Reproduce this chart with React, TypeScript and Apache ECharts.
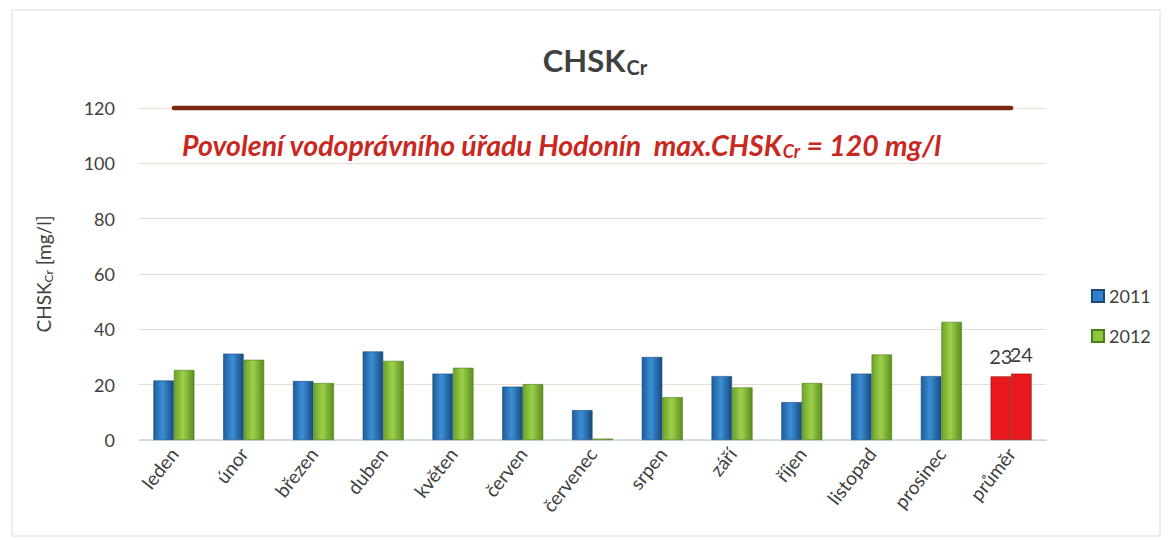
import React, { useEffect, useRef } from "react";
import * as echarts from "echarts";

const categories = ["leden", "únor", "březen", "duben", "květen", "červen", "červenec", "srpen", "září", "říjen", "listopad", "prosinec", "průměr"];
const values2011 = [21.5, 31.2, 21.3, 32, 24, 19.3, 10.8, 30, 23.1, 13.7, 24, 23.1, 23];
const values2012 = [25.3, 29, 20.6, 28.6, 26.1, 20.2, 0.5, 15.5, 19, 20.6, 30.9, 42.7, 24];
const limitValue = 120;
const yTicks = { min: 0, max: 120, interval: 20 };

const FONT = "Lato, 'Open Sans', sans-serif";

const blueGrad = () =>
  new echarts.graphic.LinearGradient(0, 0, 1, 0, [
    { offset: 0, color: "#1f5c99" },
    { offset: 0.45, color: "#3b8fd6" },
    { offset: 1, color: "#174a80" },
  ]);
const greenGrad = () =>
  new echarts.graphic.LinearGradient(0, 0, 1, 0, [
    { offset: 0, color: "#6aa22a" },
    { offset: 0.45, color: "#9fd04b" },
    { offset: 1, color: "#5a8d1e" },
  ]);

export default function App() {
  const ref = useRef<HTMLDivElement>(null);
  useEffect(() => {
    document.body.style.margin = "0";
    const chart = echarts.init(ref.current!, null, { renderer: "svg" });
    const lastIdx = categories.length - 1;
    const mkData = (vals: number[]) =>
      vals.map((v, i) =>
        i === lastIdx
          ? {
              value: v,
              itemStyle: { color: "#e8191c", borderColor: "#8a1010", borderWidth: 0.6 },
              label: {
                show: true,
                position: "top",
                distance: 10,
                fontSize: 20,
                color: "#404040",
                fontFamily: FONT,
              },
            }
          : v
      );
    chart.setOption({
      animation: false,
      backgroundColor: "#ffffff",
      title: {
        text: "{a|CHSK}{b|Cr}",
        left: 590,
        top: 38,
        textAlign: "center",
        textStyle: {
          rich: {
            a: { fontSize: 31, fontWeight: "bold", color: "#404040", fontFamily: FONT },
            b: { fontSize: 20, fontWeight: "bold", color: "#404040", fontFamily: FONT, verticalAlign: "bottom", padding: [14, 0, 0, 1] },
          },
        },
      },
      legend: {
        orient: "vertical",
        left: 1086,
        top: 282,
        itemWidth: 12,
        itemHeight: 12,
        itemGap: 22,
        icon: "rect",
        textStyle: { fontSize: 18, color: "#404040", fontFamily: FONT },
        data: [
          { name: "2011", itemStyle: { color: "#2e7fc8" } },
          { name: "2012", itemStyle: { color: "#8cc63f" } },
        ],
      },
      grid: { left: 139, right: 123, top: 108, bottom: 100 },
      xAxis: {
        type: "category",
        data: categories,
        axisLine: { lineStyle: { color: "#c5d6e6", width: 1.5 } },
        axisTick: { show: false },
        axisLabel: {
          rotate: 52,
          fontSize: 19,
          color: "#404040",
          fontFamily: FONT,
          margin: 10,
          interval: 0,
        },
      },
      yAxis: {
        type: "value",
        min: yTicks.min,
        max: yTicks.max,
        interval: yTicks.interval,
        name: "{a|CHSK}{b|Cr}{a| [mg/l]}",
        nameLocation: "middle",
        nameRotate: 90,
        nameGap: 85,
        nameTextStyle: {
          rich: {
            a: { fontSize: 19, color: "#404040", fontFamily: FONT },
            b: { fontSize: 12, color: "#404040", fontFamily: FONT, verticalAlign: "bottom", padding: [10, 0, 0, 0] },
          },
        },
        axisLine: { show: false },
        axisTick: { show: false },
        axisLabel: { fontSize: 18, color: "#404040", fontFamily: FONT, margin: 24 },
        splitLine: { lineStyle: { color: "#ecdcd6", width: 1 } },
      },
      series: [
        {
          name: "2011",
          type: "bar",
          data: mkData(values2011),
          barWidth: 20.5,
          barGap: "0%",
          itemStyle: { color: blueGrad(), borderColor: "#184a7c", borderWidth: 0.6 },
        },
        {
          name: "2012",
          type: "bar",
          data: mkData(values2012),
          barWidth: 20.5,
          barGap: "0%",
          itemStyle: { color: greenGrad(), borderColor: "#4f7d1a", borderWidth: 0.6 },
        },
        {
          name: "limit",
          type: "line",
          data: categories.map(() => limitValue),
          symbol: "none",
          silent: true,
          clip: false,
          z: 5,
          lineStyle: { color: "#7a2a12", width: 4.5, cap: "round" },
        },
      ],
      graphic: [
        {
          type: "rect",
          shape: { x: 12, y: 10, width: 1148, height: 526 },
          style: { fill: "none", stroke: "#dddddd", lineWidth: 1 },
          silent: true,
        },
        {
          type: "text",
          left: 182,
          top: 130,
          style: {
            text: "{a|Povolení vodoprávního úřadu Hodonín  max.CHSK}{b|Cr}{a| = 120 mg/l}",
            rich: {
              a: { fontSize: 28.5, fontWeight: "bold", fontStyle: "italic", fill: "#c9281f", fontFamily: FONT },
              b: { fontSize: 18, fontWeight: "bold", fontStyle: "italic", fill: "#c9281f", fontFamily: FONT, verticalAlign: "bottom", padding: [12, 0, 0, 0] },
            },
          },
        },
      ],
    });
    return () => chart.dispose();
  }, []);
  return <div ref={ref} style={{ width: 1169, height: 540 }} />;
}
